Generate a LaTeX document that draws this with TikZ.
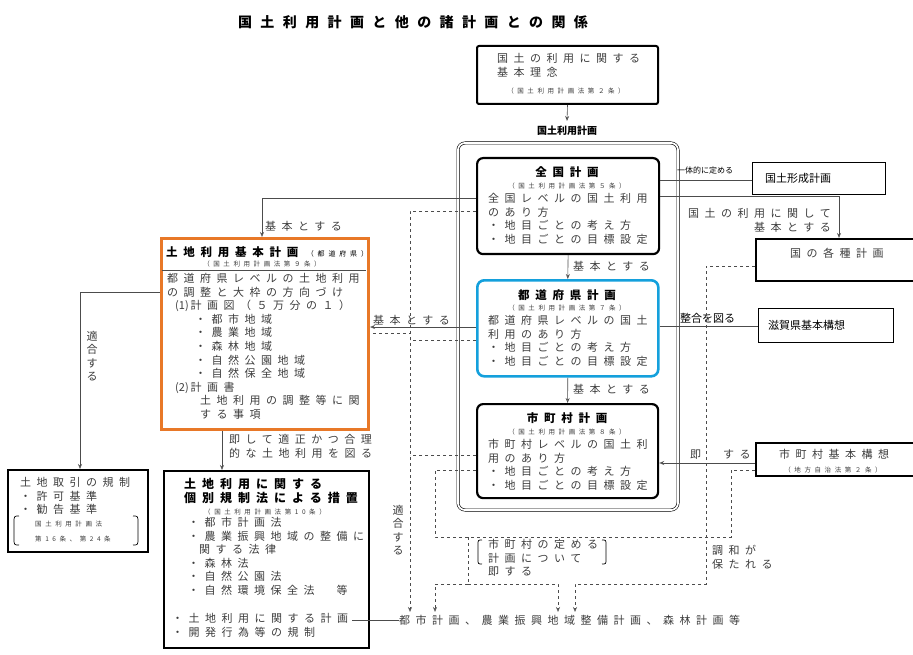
\documentclass[tikz,border=0pt]{standalone}
\usepackage{fontspec}
\newfontfamily\jp[LetterSpace=50]{Noto Sans CJK JP}
\newfontfamily\jpt[LetterSpace=60]{Noto Sans CJK JP}
\newfontfamily\jps[LetterSpace=55]{Noto Sans CJK JP}
\newfontfamily\jpn{Noto Sans CJK JP}
\usetikzlibrary{arrows.meta}
\definecolor{orng}{RGB}{232,120,40}
\definecolor{blu}{RGB}{20,160,220}
\definecolor{txt}{RGB}{60,60,60}
\begin{document}
\begin{tikzpicture}[x=1pt,y=-1pt,
  body/.style={inner sep=0,anchor=north west,align=left,text=txt,font=\jp\fontsize{11}{13.6}\selectfont},
  sm/.style={inner sep=0,text=txt,font=\jps\fontsize{6.5}{8}\selectfont},
  ttl/.style={inner sep=0,font=\jp\bfseries\fontsize{11.5}{14}\selectfont},
  lbl/.style={inner sep=0,text=txt,font=\jp\fontsize{11}{14}\selectfont},
  lbn/.style={inner sep=0,font=\jpn\fontsize{11}{14}\selectfont},
  arr/.style={-{Stealth[length=5pt,width=4pt,open]},line width=0.6pt,draw=black!70},
  ln/.style={line width=0.6pt,draw=black!70},
  dsh/.style={dashed,line width=0.6pt,draw=black!70},
  darr/.style={dsh,-{Stealth[length=5pt,width=4pt,open]}},
]
\useasboundingbox (0,0) rectangle (913,655);
% title
\node[inner sep=0,font=\jpt\bfseries\fontsize{14}{16}\selectfont] (title) at (413,22) {国土利用計画と他の諸計画との関係};
% boxes
\draw[line width=0.6pt,double,double distance=1.8pt,rounded corners=7pt] (458,143) rectangle (678,510);
\node[inner sep=0,font=\jpn\bfseries\fontsize{10}{12}\selectfont] (kklabel) at (567,131) {国土利用計画};
\node[draw,line width=2pt,rounded corners=2pt,minimum width=181pt,minimum height=58pt,anchor=north west,inner sep=0] (rinen) at (476,45) {};
\node[draw,line width=2.2pt,rounded corners=6pt,minimum width=182pt,minimum height=96pt,anchor=north west,inner sep=0] (zk) at (476,157) {};
\node[draw=blu,line width=2.6pt,rounded corners=7pt,minimum width=181pt,minimum height=96pt,anchor=north west,inner sep=0] (pref) at (476,279) {};
\node[draw,line width=2.2pt,rounded corners=6pt,minimum width=181pt,minimum height=94pt,anchor=north west,inner sep=0] (city) at (476,403) {};
\node[draw,line width=0.9pt,minimum width=133pt,minimum height=32pt,anchor=north west,inner sep=0] (keisei) at (752,162) {};
\node[draw,line width=1.8pt,minimum width=160pt,minimum height=42pt,anchor=north west,inner sep=0] (kuni) at (755,238) {};
\node[draw,line width=0.9pt,minimum width=135pt,minimum height=34pt,anchor=north west,inner sep=0] (shiga) at (758,308) {};
\node[draw,line width=2pt,minimum width=160pt,minimum height=33pt,anchor=north west,inner sep=0] (kousou) at (755,442) {};
\node[draw=orng,line width=3pt,minimum width=207pt,minimum height=191pt,anchor=north west,inner sep=0] (kihon) at (160,237) {};
\draw[line width=0.8pt,draw=black!70] (161.5,270) -- (365.5,270);
\node[draw,line width=2pt,minimum width=140pt,minimum height=82pt,anchor=north west,inner sep=0] (tori) at (7,469) {};
\node[draw,line width=2pt,minimum width=205pt,minimum height=177pt,anchor=north west,inner sep=0] (kobetsu) at (163,470) {};

% texts in boxes
\node[body] (t1) at (497,53) {国土の利用に関する\\基本理念};
\node[sm] (t1s) at (566,91) {（国土利用計画法第２条）};
\node[ttl] (t2) at (567,172) {全国計画};
\node[sm] (t2s) at (567,186) {（国土利用計画法第５条）};
\node[body] (t2b) at (488,193) {全国レベルの国土利用\\のあり方\\・地目ごとの考え方\\・地目ごとの目標設定};
\node[ttl] (t3) at (567,295) {都道府県計画};
\node[sm] (t3s) at (567,308) {（国土利用計画法第７条）};
\node[body] (t3b) at (488,315) {都道府県レベルの国土\\利用のあり方\\・地目ごとの考え方\\・地目ごとの目標設定};
\node[ttl] (t4) at (567,418) {市町村計画};
\node[sm] (t4s) at (567,432) {（国土利用計画法第８条）};
\node[body] (t4b) at (488,439) {市町村レベルの国土利\\用のあり方\\・地目ごとの考え方\\・地目ごとの目標設定};
\node[lbn,anchor=west] (t5) at (765,178) {国土形成計画};
\node[lbl,anchor=west] (t6) at (790,253) {国の各種計画};
\node[lbn,anchor=west] (t7) at (768,325) {滋賀県基本構想};
\node[lbl,anchor=west] (t8) at (779,454) {市町村基本構想};
\node[sm] (t8s) at (833,470) {（地方自治法第２条）};
\node[ttl,anchor=west] (t9) at (166,252) {土地利用基本計画 {\jps\mdseries\fontsize{7}{8}\selectfont（都道府県）}};
\node[sm] (t9s) at (262,264) {（国土利用計画法第９条）};
\node[body] (t9b) at (167,273) {都道府県レベルの土地利用\\の調整と大枠の方向づけ\\\hspace*{8pt}{\jpn(1)}\,計画図（５万分の１）\\\hspace*{28pt}・都市地域\\\hspace*{28pt}・農業地域\\\hspace*{28pt}・森林地域\\\hspace*{28pt}・自然公園地域\\\hspace*{28pt}・自然保全地域\\\hspace*{8pt}{\jpn(2)}\,計画書\\\hspace*{33pt}土地利用の調整等に関\\\hspace*{33pt}する事項};
\node[body] (t10) at (20,477) {土地取引の規制\\・許可基準\\・勧告基準};
\node[sm,anchor=west] (t10s) at (35,524) {国土利用計画法};
\node[sm,anchor=west] (t10t) at (35,539) {第16条、第24条};
\draw[line width=0.7pt] (19,516) .. controls (14,516) and (14,516) .. (14,523) -- (14,538) .. controls (14,545) and (14,545) .. (19,545);
\draw[line width=0.7pt] (133,516) .. controls (138,516) and (138,516) .. (138,523) -- (138,538) .. controls (138,545) and (138,545) .. (133,545);
\node[ttl,anchor=north west,align=left,font=\jp\bfseries\fontsize{12}{14.5}\selectfont] (t11) at (184,478) {土地利用に関する\\個別規制法による措置};
\node[sm] (t11s) at (265,512) {（国土利用計画法第10条）};
\node[body] (t11b) at (188,517) {・都市計画法\\・農業振興地域の整備に\\\hspace*{11pt}関する法律\\・森林法\\・自然公園法\\・自然環境保全法　等};
\node[body] (t11c) at (172,613) {・土地利用に関する計画\\・開発行為等の規制};
\coordinate (t11e) at (352,620);
\node[lbl,anchor=west] (bottom) at (399,620) {都市計画、農業振興地域整備計画、森林計画等};

% solid connectors
\draw[arr] (rinen.south) -- (567,121);
\draw[arr] (zk.west |- 0,198) -- (262,198) -- (kihon.north -| 262,0);
\node[lbl,anchor=west] (l1) at (265,226) {基本とする};
\draw[arr] (zk.south) -- (pref.north);
\node[lbl,anchor=west] (l2) at (573,266) {基本とする};
\draw[arr] (pref.west |- 0,327) -- (kihon.east |- 0,327);
\node[lbl,anchor=west] (l3) at (373,320) {基本とする};
\draw[arr] (pref.south) -- (city.north);
\node[lbl,anchor=west] (l4) at (573,389) {基本とする};
\draw[arr] (kihon.south -| 222,0) -- (kobetsu.north -| 222,0);
\node[body] (l5) at (229,434) {即して適正かつ合理\\的な土地利用を図る};
\draw[arr] (kihon.west |- 0,292) -- (80,292) -- (tori.north -| 80,0);
\node[lbl,align=center,font=\jpn\fontsize{11}{13.5}\selectfont] (l6) at (92,356) {適\\合\\す\\る};
\draw[ln] (zk.east |- 0,180) -- (keisei.west |- 0,180);
\node[inner sep=0,font=\jpn\fontsize{8}{10}\selectfont] (l7) at (705,170) {一体的に定める};
\draw[arr] (zk.east |- 0,196) -- (839,196) -- (kuni.north -| 839,0);
\node[lbl,anchor=east,align=right] (l8) at (831,220) {国土の利用に関して\\基本とする};
\draw[ln] (pref.east |- 0,326) -- (shiga.west |- 0,326);
\node[lbn,anchor=west] (l9) at (680,318) {整合を図る};
\draw[arr] (kousou.west |- 0,463) -- (city.east |- 0,463);
\node[lbl,anchor=west] (l10) at (690,455) {即　する};
\draw[ln] (t11e) -- (bottom.west);

% dashed connectors
\coordinate (d1) at (410,211);
\draw[darr] (zk.west |- 0,211) -- (d1) -- (410,612);
\draw[dsh] (pref.west |- 0,340) -- (410,340);
\draw[dsh] (373,333) -- (410,333);
\draw[dsh] (city.west |- 0,455) -- (410,455);
\node[lbl,align=center,font=\jpn\fontsize{11}{13.5}\selectfont] (l11) at (398,530) {適\\合\\す\\る};
\draw[dsh] (city.west |- 0,470) -- (435,470) -- (435,537) -- (731,537) -- (731,470) -- (kousou.west |- 0,470);
\draw[darr] (kuni.west |- 0,266) -- (706,266) -- (706,584) -- (575,584) -- (575,612);
\coordinate (d4) at (468,584);
\draw[dsh] (468,537) -- (d4);
\draw[darr] (d4) -- (435,584) -- (435,612);
\draw[darr] (d4) -- (558,584) -- (558,612);
\node[body] (l12) at (488,539) {市町村の定める\\計画について\\即する};
\draw[line width=0.7pt] (482,540) .. controls (478,540) and (478,540) .. (478,545) -- (478,559) .. controls (478,564) and (478,564) .. (482,564);
\draw[line width=0.7pt] (602,540) .. controls (606,540) and (606,540) .. (606,545) -- (606,559) .. controls (606,564) and (606,564) .. (602,564);
\node[body] (l13) at (712,545) {調和が\\保たれる};
\end{tikzpicture}
\end{document}
